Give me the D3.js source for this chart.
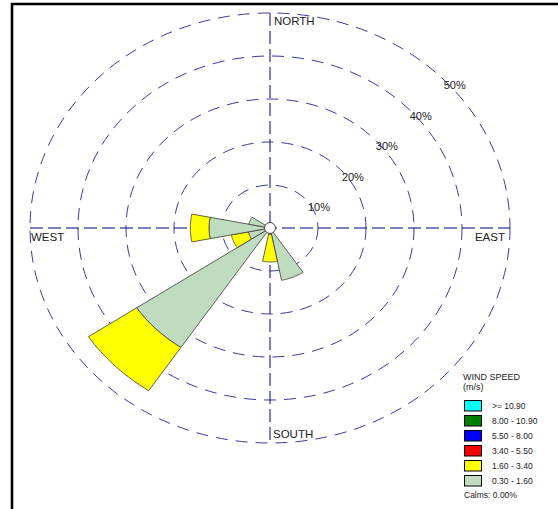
<!DOCTYPE html>
<html>
<head>
<meta charset="utf-8">
<script src="https://cdn.jsdelivr.net/npm/d3@7"></script>
<style>
  html, body { margin: 0; padding: 0; background: #fff; }
  svg { display: block; font-family: "Liberation Sans", Arial, sans-serif; }
</style>
</head>
<body>
<svg id="chart" width="558" height="509"></svg>
<script>
// ---- data ----
const directions = ["N","NNE","NE","ENE","E","ESE","SE","SSE","S","SSW","SW","WSW","W","WNW","NW","NNW"];
const speedClasses = ["0.30 - 1.60", "1.60 - 3.40"];
const calmSpeed = [0,0,0,0,0,0,0,12.4,1.5,0,33.4,4.6,12.7,4.5,0,0];   // 0.30 - 1.60 m/s (%)
const lowSpeed  = [0,0,0,0,0,0,0,0,6.4,0,12.1,3.6,3.9,0,0,0];         // 1.60 - 3.40 m/s (%)
const ringTicks = [10, 20, 30, 40, 50];
const ringLabels = ["10%", "20%", "30%", "40%", "50%"];
const compassLabels = ["NORTH", "EAST", "SOUTH", "WEST"];
const legendLabels = [">= 10.90", "8.00 - 10.90", "5.50 - 8.00", "3.40 - 5.50", "1.60 - 3.40", "0.30 - 1.60"];
const legendColors = ["#00ffff", "#008000", "#0000ff", "#ff0000", "#ffff00", "#c0dcc0"];
const seriesColors = ["#c0dcc0", "#ffff00"];
const calmsText = "Calms: 0.00%";

// ---- layout ----
const svg = d3.select("#chart");
const cx = 270, cy = 228;
const rX = d3.scaleLinear().domain([0, 50]).range([0, 240]);
const rY = d3.scaleLinear().domain([0, 50]).range([0, 215]);
const angle = d3.scaleBand().domain(directions).range([0, 2 * Math.PI]);
const half = angle.bandwidth() / 2;

// frame
svg.append("path").attr("d", `M11,4 H558 M12,3 V509`)
  .attr("stroke", "#000").attr("stroke-width", 2.6).attr("fill", "none");

// rings
svg.append("g").selectAll("ellipse").data(ringTicks).join("ellipse")
  .attr("cx", cx).attr("cy", cy)
  .attr("rx", d => rX(d)).attr("ry", d => rY(d))
  .attr("fill", "none").attr("stroke", "#3a3a9e").attr("stroke-width", 1)
  .attr("stroke-dasharray", "12,8");

// axes
const maxT = d3.max(ringTicks);
svg.append("line").attr("x1", cx - rX(maxT)).attr("x2", cx + rX(maxT)).attr("y1", cy).attr("y2", cy)
  .attr("stroke", "#000080").attr("stroke-width", 1).attr("stroke-dasharray", "13,5");
svg.append("line").attr("x1", cx).attr("x2", cx).attr("y1", cy - rY(maxT)).attr("y2", cy + rY(maxT))
  .attr("stroke", "#000080").attr("stroke-width", 1).attr("stroke-dasharray", "13,5");

// ring labels
svg.append("g").selectAll("text").data(ringTicks).join("text")
  .attr("x", d => cx + rX(d) * Math.SQRT1_2 + 4)
  .attr("y", d => cy - rY(d) * Math.SQRT1_2 + 13.5)
  .attr("font-size", 11).attr("fill", "#222")
  .text((d, i) => ringLabels[i]);

// petals
function pt(r, a) {
  return [cx + rX(r) * Math.sin(a), cy - rY(r) * Math.cos(a)];
}
function sectorPath(r0, r1, a0, a1) {
  const n = 24;
  const pts = [];
  for (let i = 0; i <= n; i++) pts.push(pt(r1, a0 + (a1 - a0) * i / n));
  if (r0 <= 0) pts.push(pt(0, 0));
  else for (let i = n; i >= 0; i--) pts.push(pt(r0, a0 + (a1 - a0) * i / n));
  return d3.line()(pts) + "Z";
}
const petals = [];
directions.forEach((dir, i) => {
  const a = angle(dir); // centre angle (N centred on 0)
  let base = 0;
  [calmSpeed[i], lowSpeed[i]].forEach((v, k) => {
    if (v > 0) petals.push({ a0: a - half, a1: a + half, r0: base, r1: base + v, color: seriesColors[k] });
    base += v;
  });
});
svg.append("g").selectAll("path").data(petals).join("path")
  .attr("d", p => sectorPath(p.r0, p.r1, p.a0, p.a1))
  .attr("fill", p => p.color).attr("stroke", "#3a3a3a").attr("stroke-width", 0.8)
  .attr("stroke-linejoin", "round");

// centre
svg.append("circle").attr("cx", cx).attr("cy", cy).attr("r", 5.5)
  .attr("fill", "#fff").attr("stroke", "#444").attr("stroke-width", 1);

// compass labels
const lbl = svg.append("g").attr("font-size", 11.5).attr("fill", "#222");
lbl.append("text").attr("x", cx + 4).attr("y", cy - rY(maxT) + 12).text(compassLabels[0]);
lbl.append("text").attr("x", cx + rX(maxT) - 5).attr("y", cy + 13).attr("text-anchor", "end").text(compassLabels[1]);
lbl.append("text").attr("x", cx + 3).attr("y", cy + rY(maxT) - 5).text(compassLabels[2]);
lbl.append("text").attr("x", cx - rX(maxT) + 1).attr("y", cy + 13).text(compassLabels[3]);

// legend
const lg = svg.append("g").attr("font-size", 9).attr("fill", "#222");
lg.append("text").attr("x", 463).attr("y", 380).text("WIND SPEED");
lg.append("text").attr("x", 463).attr("y", 390).text("(m/s)");
const rows = lg.selectAll("g.row").data(legendLabels).join("g").attr("class", "row")
  .attr("transform", (d, i) => `translate(464,${400 + i * 15})`);
rows.append("rect").attr("x", 0.5).attr("y", 0.5).attr("width", 17).attr("height", 10.5)
  .attr("fill", (d, i) => legendColors[i]).attr("stroke", "#000").attr("stroke-width", 1);
rows.append("text").attr("x", 28).attr("y", 8.5).attr("font-size", 8.5).text(d => d);
lg.append("text").attr("x", 464).attr("y", 498).attr("font-size", 8.5).text(calmsText);
</script>
</body>
</html>
